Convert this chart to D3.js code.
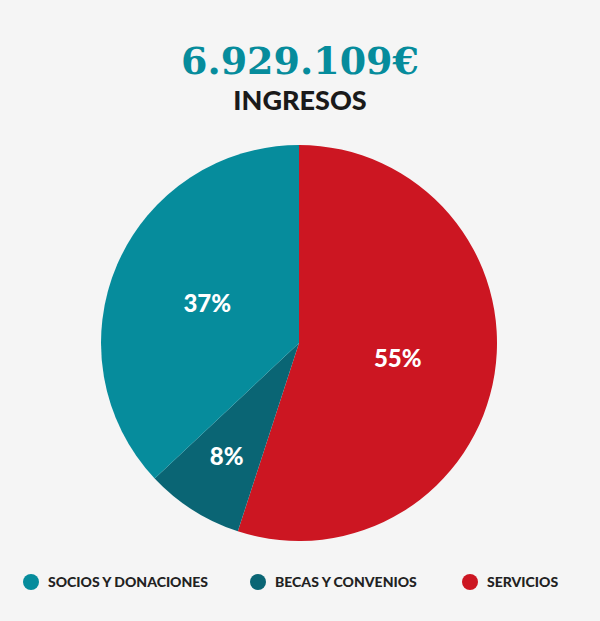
<!DOCTYPE html>
<html><head><meta charset="utf-8">
<script src="https://cdn.jsdelivr.net/npm/d3@7"></script>
<style>body{margin:0;background:#f5f5f5}</style></head>
<body><svg id="c" width="600" height="621"></svg>
<script>
const categories=["SERVICIOS","BECAS Y CONVENIOS","SOCIOS Y DONACIONES"];
const values=[55,8,37];
const colors=["#cc1622","#0a6574","#068c9c"];
const legendOrder=[2,1,0];
const svg=d3.select("#c");
svg.append("rect").attr("width",600).attr("height",621).attr("fill","#f5f5f5");
svg.append("text").attr("x",300).attr("y",74).attr("text-anchor","middle")
 .attr("font-family","DejaVu Serif, serif").attr("font-weight","bold").attr("font-size",38)
 .attr("fill","#068c9c").text("6.929.109€");
svg.append("text").attr("x",300).attr("y",110).attr("text-anchor","middle")
 .attr("font-family","Lato, sans-serif").attr("font-weight","900").attr("font-size",27)
 .attr("fill","#1a1a1a").text("INGRESOS");
const cx=299,cy=343,r=198;
const pie=d3.pie().sort(null)(values);
const arc=d3.arc().innerRadius(0).outerRadius(r);
const g=svg.append("g").attr("transform",`translate(${cx},${cy})`);
g.selectAll("path").data(pie).join("path").attr("d",arc).attr("fill",(d,i)=>colors[i]);
const la=[d3.arc().innerRadius(0).outerRadius(2*100),d3.arc().innerRadius(0).outerRadius(2*135),d3.arc().innerRadius(0).outerRadius(2*100)];
g.selectAll("text").data(pie).join("text")
 .attr("transform",(d,i)=>`translate(${la[i].centroid(d)})`)
 .attr("text-anchor","middle").attr("dy","0.35em")
 .attr("font-family","Lato, sans-serif").attr("font-weight","900").attr("font-size",24)
 .attr("fill","#fff").text(d=>d.data+"%");
const lx=[31,258,470];
legendOrder.forEach((k,j)=>{
 svg.append("circle").attr("cx",lx[j]).attr("cy",582).attr("r",8).attr("fill",colors[k]);
 svg.append("text").attr("x",lx[j]+17).attr("y",587).attr("font-family","Lato, sans-serif")
  .attr("font-weight","900").attr("font-size",14).attr("fill","#222").text(categories[k]);
});
</script></body></html>
